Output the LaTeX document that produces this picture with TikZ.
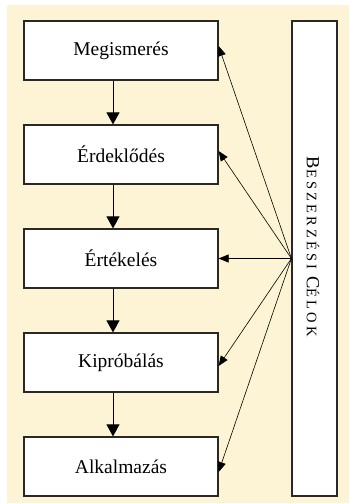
\documentclass[tikz,border=0pt]{standalone}
\usepackage{fontspec}
\setmainfont{Liberation Serif}
\usetikzlibrary{arrows.meta}
\definecolor{cream}{RGB}{252,244,212}
\definecolor{edge}{RGB}{40,40,40}
\tikzset{
  stage/.style={draw=edge, line width=1.2bp, fill=white, minimum width=194bp,
    minimum height=59bp, inner sep=0pt, font=\fontsize{19.5bp}{22bp}\selectfont},
  goalbox/.style={draw=edge, line width=1.2bp, fill=white, minimum width=45bp,
    minimum height=475bp, inner sep=0pt},
  flow/.style={line width=0.9bp, -{Triangle[width=13bp,length=12bp]}},
  fan/.style={line width=0.6bp, -{Triangle[width=8bp,length=10bp]}}
}
\newcommand{\capletter}[1]{\fontsize{18.5bp}{21bp}\selectfont #1}
\newcommand{\scletters}[1]{\fontsize{14.5bp}{17bp}\selectfont #1}
\begin{document}
\begin{tikzpicture}[x=1bp,y=-1bp]
  \useasboundingbox (0,0) rectangle (349,504);
  \fill[cream] (7,5) rectangle (349,503);

  % stages of the adoption process
  \node[stage] (m) at (121,50.5)  {Megismerés};
  \node[stage] (e) at (121,154.5) {Érdeklődés};
  \node[stage] (t) at (121,258.5) {Értékelés};
  \node[stage] (k) at (121,362.5) {Kipróbálás};
  \node[stage] (a) at (121,466.5) {Alkalmazás};

  % purchasing goals column
  \node[goalbox] (g) at (314.5,258.5) {};
  \node[rotate=-90, inner sep=0pt] (gt) at (313,247)
    {\addfontfeature{LetterSpace=22}\capletter{B}\scletters{ESZERZÉSI} \capletter{C}\scletters{ÉLOK}};
  \coordinate (f) at (g.west);

  % vertical flow between stages
  \foreach \u/\v in {m/e, e/t, t/k, k/a}
    \draw[flow] ([xshift=-8bp]\u.south) -- ([xshift=-8bp]\v.north);

  % fan of arrows from the goals column
  \draw[fan] (f) -- ([yshift=4.5bp]m.east);
  \draw[fan] (f) -- ([yshift=3.5bp]e.east);
  \draw[fan] (f) -- (t.east);
  \draw[fan] (f) -- ([yshift=-3.5bp]k.east);
  \draw[fan] (f) -- ([yshift=-5.5bp]a.east);
\end{tikzpicture}
\end{document}
